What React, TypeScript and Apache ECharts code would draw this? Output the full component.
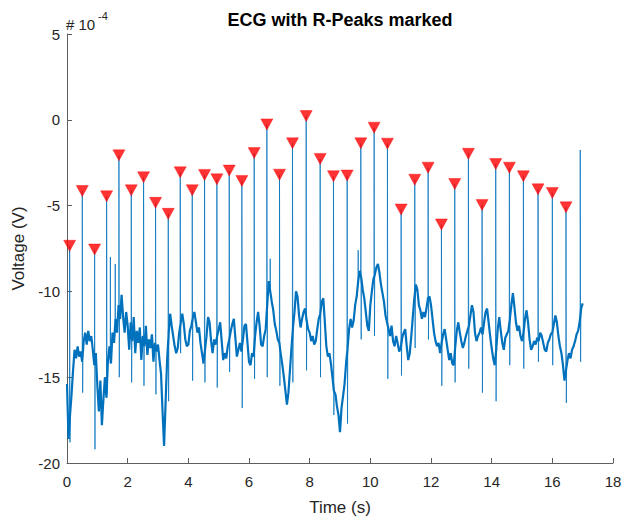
import React, { useEffect, useRef } from "react";
import * as echarts from "echarts";

// R-peak times (s) and amplitudes (x1e-4 V)
const peakTimes = [
  0.087, 0.504, 0.91, 1.306, 1.712, 2.119, 2.525, 2.92, 3.338, 3.733,
  4.129, 4.535, 4.941, 5.348, 5.765, 6.171, 6.589, 7.006, 7.434, 7.885,
  8.346, 8.785, 9.236, 9.686, 10.125, 10.564, 11.015, 11.465, 11.905, 12.344,
  12.783, 13.233, 13.684, 14.134, 14.584, 15.046, 15.529, 16.0, 16.45,
];
const peakValues = [
  -7.34, -4.15, -7.56, -4.46, -2.07, -4.11, -3.35, -4.84, -5.48, -3.06,
  -4.11, -3.21, -3.47, -2.96, -3.56, -1.94, -0.27, -3.2, -1.37, 0.22,
  -2.28, -3.29, -3.25, -1.37, -0.46, -1.39, -5.23, -3.49, -2.79, -6.1,
  -3.74, -1.98, -4.96, -2.58, -2.79, -3.29, -4.05, -4.26, -5.1,
];
// S-wave dips after each R peak
const sDipValues = [
  -18.8, -15.9, -19.2, -16.0, -15.0, -15.3, -15.5, -16.0, -16.4, -13.6,
  -15.2, -15.3, -15.6, -14.7, -16.8, -15.1, -15.0, -15.5, -15.3, -14.6,
  -15.0, -17.2, -17.7, -12.8, -12.6, -15.1, -14.9, -13.3, -12.8, -15.5,
  -15.3, -14.5, -15.9, -16.4, -14.3, -14.5, -14.1, -14.3, -16.5,
];
// last unmarked spike
const lastSpikeTime = 16.92;
const lastSpikeValue = -1.76;
const lastSpikeDip = -14.1;

// baseline sampled every 0.05 s from 0 to 17.0 s (x1e-4 V)
const baselineStep = 0.05;
const baseline = [
  // 0.00 - 0.95
  -15.4, -18.6, -17.2, -16.0, -14.6, -13.4, -13.9, -13.2, -13.8, -13.5,
  -14.1, -12.9, -12.4, -13.1, -12.3, -12.9, -12.6, -13.4, -14.3, -13.6,
  // 1.00 - 1.95
  -15.5, -17.0, -15.2, -17.8, -16.3, -15.0, -16.2, -14.0, -13.2, -14.2,
  -12.4, -13.0, -11.6, -12.4, -10.8, -11.6, -10.2, -11.5, -12.4, -11.2,
  // 2.00 - 2.95
  -12.0, -13.4, -11.8, -12.9, -11.5, -13.6, -12.3, -13.0, -12.1, -14.0,
  -12.6, -13.2, -12.0, -13.7, -12.8, -13.3, -12.5, -14.1, -13.0, -13.5,
  // 3.00 - 3.95
  -13.1, -14.0, -14.8, -17.0, -19.0, -16.5, -14.0, -12.5, -11.3, -12.0,
  -12.6, -13.2, -13.6, -13.3, -12.4, -11.8, -11.3, -11.9, -12.8, -13.2,
  // 4.00 - 4.95
  -13.1, -12.3, -12.0, -11.5, -11.2, -11.8, -12.4, -12.1, -13.0, -13.6,
  -14.2, -13.4, -12.6, -11.5, -11.8, -12.9, -13.6, -12.8, -13.1, -12.6,
  // 5.00 - 5.95
  -12.2, -11.8, -12.9, -14.0, -13.6, -13.9, -13.2, -12.8, -12.3, -11.9,
  -11.6, -12.7, -13.8, -13.4, -13.0, -13.5, -12.8, -12.0, -11.9, -13.0,
  // 6.00 - 6.95
  -14.1, -14.3, -13.6, -13.8, -12.6, -11.8, -11.2, -12.0, -13.1, -13.2,
  -12.6, -12.2, -10.8, -9.4, -10.0, -10.6, -11.1, -11.9, -12.3, -12.8,
  // 7.00 - 7.95
  -13.0, -13.7, -14.3, -15.0, -15.8, -16.6, -15.9, -14.6, -13.3, -12.1,
  -11.2, -10.0, -10.3, -11.4, -12.1, -11.6, -11.2, -11.0, -11.7, -12.2,
  // 8.00 - 8.95
  -12.4, -12.9, -12.6, -13.1, -12.9, -12.2, -11.6, -11.3, -10.6, -10.4,
  -11.8, -13.2, -13.8, -13.6, -14.2, -15.0, -15.8, -16.0, -16.7, -17.2,
  // 9.00 - 9.95
  -18.2, -16.8, -16.1, -15.4, -14.2, -13.3, -12.2, -11.6, -12.1, -11.7,
  -10.8, -10.3, -9.4, -8.8, -9.2, -9.9, -10.4, -11.2, -12.0, -12.3,
  // 10.00 - 10.95
  -10.8, -10.0, -9.3, -9.0, -8.6, -8.4, -8.9, -9.6, -10.1, -10.6,
  -11.4, -11.8, -12.2, -12.6, -12.0, -12.9, -13.2, -12.6, -13.0, -13.5,
  // 11.00 - 11.95
  -13.3, -12.7, -12.4, -12.2, -13.2, -14.0, -13.6, -12.6, -11.5, -10.4,
  -9.6, -9.9, -10.8, -11.1, -11.6, -11.2, -11.5, -11.0, -10.4, -10.3,
  // 12.00 - 12.95
  -10.8, -11.6, -12.4, -12.9, -13.2, -13.0, -13.6, -13.0, -12.5, -12.2,
  -12.8, -13.4, -14.0, -13.6, -14.2, -14.3, -13.2, -12.3, -11.8, -12.4,
  // 13.00 - 13.95
  -12.9, -13.3, -13.0, -12.6, -12.3, -12.0, -11.4, -10.8, -11.2, -12.4,
  -12.9, -12.6, -12.4, -12.1, -12.5, -11.8, -11.2, -11.0, -11.8, -12.6,
  // 14.00 - 14.95
  -13.3, -13.9, -14.3, -13.4, -12.2, -11.5, -12.3, -13.0, -13.4, -12.7,
  -12.5, -12.3, -11.6, -10.8, -10.1, -10.9, -11.8, -12.3, -12.0, -12.6,
  // 15.00 - 15.95
  -12.9, -12.4, -11.6, -11.1, -11.8, -12.8, -13.4, -13.2, -12.9, -13.1,
  -12.7, -12.9, -12.4, -12.6, -13.0, -13.4, -13.5, -13.0, -12.8, -12.5,
  // 16.00 - 17.00
  -12.4, -11.9, -11.4, -11.8, -12.6, -13.2, -13.6, -14.3, -15.2, -14.6,
  -14.0, -13.6, -13.9, -13.4, -13.2, -12.9, -12.5, -12.3, -11.8, -11.0,
  -10.7,
];
// small extra upward spikes
const extraSpikeTimes = [1.43, 1.59, 6.7, 9.6, 10.2];
const extraSpikeValues = [-8.0, -8.4, -8.1, -7.6, -8.6];

const xTicks = { min: 0, max: 18, interval: 2 };
const yTicks = { min: -20, max: 5, interval: 5 };

const near = (t: number) =>
  baseline[Math.min(baseline.length - 1, Math.round(t / baselineStep))];

function buildBaseline(): number[][] {
  return baseline.map((v, i) => [+(i * baselineStep).toFixed(3), v]);
}

function buildSpikes(): (number[] | string)[] {
  const pts: (number[] | string)[] = [];
  peakTimes.forEach((t, k) => {
    pts.push([t - 0.004, near(t)]);
    pts.push([t, peakValues[k]]);
    pts.push([t + 0.012, sDipValues[k]]);
    pts.push([t + 0.02, near(t + 0.02)]);
    pts.push("-");
  });
  pts.push([lastSpikeTime - 0.004, near(lastSpikeTime)]);
  pts.push([lastSpikeTime, lastSpikeValue]);
  pts.push([lastSpikeTime + 0.012, lastSpikeDip]);
  pts.push([lastSpikeTime + 0.02, near(lastSpikeTime + 0.02)]);
  pts.push("-");
  extraSpikeTimes.forEach((t, k) => {
    pts.push([t - 0.005, near(t)]);
    pts.push([t, extraSpikeValues[k]]);
    pts.push([t + 0.005, near(t)]);
    pts.push("-");
  });
  return pts;
}

const FONT = "'Liberation Sans', Arial, Helvetica, sans-serif";
const AXIS_COLOR = "#5e5e5e";
const TEXT_COLOR = "#262626";

export default function App() {
  const ref = useRef<HTMLDivElement>(null);
  useEffect(() => {
    if (!ref.current) return;
    const chart = echarts.init(ref.current, undefined, { renderer: "svg" });
    const axisCommon = {
      type: "value" as const,
      axisLine: { show: true, onZero: false, lineStyle: { color: AXIS_COLOR, width: 1 } },
      axisTick: { show: true, inside: true, length: 5, lineStyle: { color: AXIS_COLOR } },
      splitLine: { show: false },
      axisLabel: { color: TEXT_COLOR, fontSize: 15, fontFamily: FONT },
      nameLocation: "middle" as const,
      nameTextStyle: { color: TEXT_COLOR, fontSize: 17, fontFamily: FONT },
    };
    chart.setOption({
      animation: false,
      backgroundColor: "#ffffff",
      grid: { left: 67, right: 16, top: 34, bottom: 55 },
      xAxis: {
        ...axisCommon,
        min: xTicks.min,
        max: xTicks.max,
        interval: xTicks.interval,
        axisLabel: { ...axisCommon.axisLabel, margin: 11 },
        name: "Time (s)",
        nameGap: 36,
      },
      yAxis: {
        ...axisCommon,
        min: yTicks.min,
        max: yTicks.max,
        interval: yTicks.interval,
        axisLabel: { ...axisCommon.axisLabel, margin: 7 },
        name: "Voltage (V)",
        nameGap: 36,
      },
      graphic: [
        {
          type: "text",
          x: 340,
          y: 20,
          style: {
            text: "ECG with R-Peaks marked",
            fill: "#000",
            font: `bold 18px ${FONT}`,
            textAlign: "center",
            textVerticalAlign: "middle",
          },
        },
        {
          type: "text",
          x: 66,
          y: 24,
          style: {
            text: "# 10",
            fill: TEXT_COLOR,
            font: `15px ${FONT}`,
            textAlign: "left",
            textVerticalAlign: "middle",
          },
        },
        {
          type: "text",
          x: 98,
          y: 16,
          style: {
            text: "-4",
            fill: TEXT_COLOR,
            font: `11px ${FONT}`,
            textAlign: "left",
            textVerticalAlign: "middle",
          },
        },
      ],
      series: [
        {
          type: "line",
          data: buildSpikes(),
          showSymbol: false,
          symbol: "none",
          connectNulls: false,
          lineStyle: { color: "#0072BD", width: 1, opacity: 0.75 },
          z: 2,
        },
        {
          type: "line",
          data: buildBaseline(),
          showSymbol: false,
          symbol: "none",
          lineStyle: { color: "#0072BD", width: 2.2 },
          z: 2,
        },
        {
          type: "scatter",
          data: peakTimes.map((t, i) => [t, peakValues[i]]),
          symbol: "triangle",
          symbolRotate: 180,
          symbolSize: [12, 11],
          itemStyle: { color: "#FF0000", borderColor: "#FF0000", borderWidth: 0.5 },
          z: 3,
        },
      ],
    });
    return () => chart.dispose();
  }, []);
  return (
    <div
      ref={ref}
      style={{ position: "absolute", left: 0, top: 0, width: 629, height: 521 }}
    />
  );
}
